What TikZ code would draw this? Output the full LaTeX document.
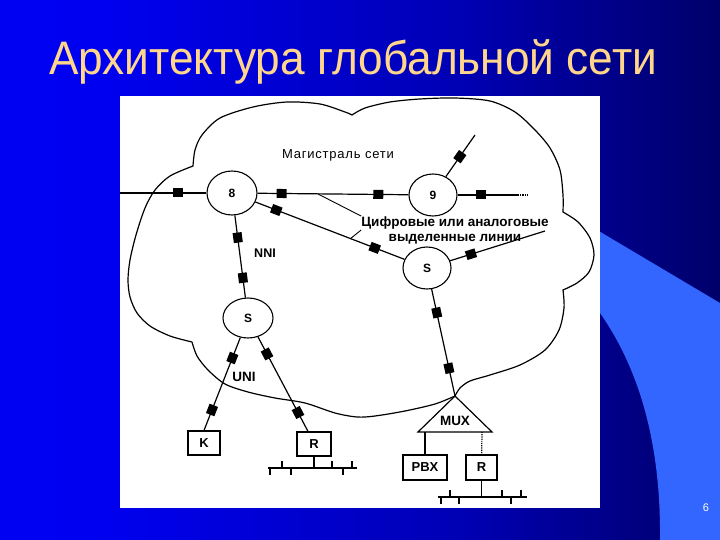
\documentclass[tikz,border=0pt]{standalone}
\usepackage{fontspec}
\setmainfont{Liberation Sans}
\usetikzlibrary{shapes.geometric}
\definecolor{titlec}{RGB}{255,214,140}
\definecolor{swoosh}{RGB}{51,102,255}
\definecolor{bgA}{RGB}{0,0,255}
\definecolor{bgB}{RGB}{0,0,240}
\definecolor{bgC}{RGB}{0,0,180}
\definecolor{bgD}{RGB}{0,0,85}
\definecolor{bgE}{RGB}{0,0,0}
\pgfdeclarehorizontalshading{bgshade}{100bp}{color(0bp)=(bgA); color(32bp)=(bgB); color(57bp)=(bgC); color(80bp)=(bgD); color(100bp)=(bgE)}
\tikzset{
 lnk/.style={line width=1.2pt},
 thinlnk/.style={line width=0.9pt},
 sw/.style={draw, line width=1.1pt, ellipse, inner sep=0pt, font=\bfseries\fontsize{12}{12}\selectfont},
 sq/.style={fill=black, minimum width=10pt, minimum height=9pt, inner sep=0pt, sloped, draw=none},
 term/.style={draw, line width=1.2pt, inner sep=0pt, font=\bfseries\fontsize{13}{13}\selectfont},
 lab/.style={inner sep=0pt, font=\fontsize{13}{14}\selectfont\addfontfeature{LetterSpace=6}},
 blab/.style={inner sep=0pt, font=\bfseries\fontsize{13.5}{15}\selectfont},
}
\begin{document}
\begin{tikzpicture}[x=1pt,y=-1pt]
\useasboundingbox (0,0) rectangle (720,540);
\shade[shading=bgshade] (0,0) rectangle (720,540);
\fill[swoosh] (560,208) -- (720,303) -- (720,540) -- (660,540) .. controls (661,445) and (640,370) .. (600,313) -- (560,262) -- cycle;
\fill[white] (120,96) rectangle (600,508);
% title
\node[font=\fontsize{47}{47}\selectfont, text=titlec, xscale=0.94, anchor=base, inner sep=0pt] (title) at (353,75) {Архитектура глобальной сети};
\node[text=white, font=\fontsize{11}{11}\selectfont, inner sep=0pt] (pg) at (706,508) {6};
% cloud
\draw[line width=1.2pt]
 plot[smooth] coordinates {(192,342) (170,336) (150,326) (137,313) (130,297) (128,280) (130,260) (136,235) (145,208) (155,190) (170,176) (193,166)}
 -- plot[smooth] coordinates {(193,166) (195,150) (202,135) (220,118) (253,107) (287,102) (320,104) (345,112) (352,115)}
 -- plot[smooth] coordinates {(352,115) (365,108) (390,102) (420,99) (455,98) (490,101) (515,112) (535,130) (550,148) (560,170) (563,195) (563,212)}
 -- plot[smooth] coordinates {(563,212) (578,222) (590,238) (594,255) (589,272) (577,283) (563,290)}
 -- plot[smooth] coordinates {(563,290) (564,308) (559,330) (545,350) (520,365) (490,375) (470,381) (460,388) (455,396)}
 -- plot[smooth] coordinates {(455,396) (435,404) (405,411) (375,416) (357,417) (335,413) (305,403) (275,398) (248,392) (225,384) (208,370) (197,356) (192,342)};
% switches
\node[sw, minimum width=50pt, minimum height=44pt] (n8) at (232,193) {8};
\node[sw, minimum width=48pt, minimum height=42pt] (n9) at (433,195) {9};
\node[sw, minimum width=48pt, minimum height=42pt] (s3) at (427,268) {S};
\node[sw, minimum width=50pt, minimum height=40pt] (s4) at (248,318) {S};
% terminals
\node[term, minimum width=32pt, minimum height=24pt] (K) at (204,443) {K};
\node[term, minimum width=34pt, minimum height=24pt] (R1) at (314,444) {R};
\node[term, minimum width=44pt, minimum height=25pt] (PBX) at (425,467.5) {PBX};
\node[term, minimum width=31pt, minimum height=25pt] (R2) at (481.5,467.5) {R};
% MUX
\coordinate (mux) at (455,396);
\coordinate (muxL) at (418,432);
\coordinate (muxR) at (492,432);
\draw[lnk] (mux) -- (muxR) -- (muxL) -- cycle;
\node[blab] (muxt) at (455,421) {MUX};
% free ends
\coordinate (wL) at (120,193);
\coordinate (eE) at (518,195);
\coordinate (eE2) at (528,195);
\coordinate (nE) at (475,135);
\coordinate (rE) at (545,231);
\coordinate (m1) at (425,432);
\coordinate (m2) at (482,432);
% links
\draw[lnk] (wL) -- node[sq,pos=0.667]{} (n8);
\draw[lnk] (n8) -- node[sq,pos=0.16]{} node[sq,pos=0.8]{} (n9);
\draw[lnk] (n9) -- node[sq,pos=0.38]{} (eE);
\draw[lnk, densely dotted] (eE) -- (eE2);
\draw[lnk] (n9) -- node[sq,pos=0.48]{} (nE);
\draw[lnk] (n8) -- node[sq,pos=0.14]{} node[sq,pos=0.8]{} (s3);
\draw[lnk] (s3) -- node[sq,pos=0.22]{} (rE);
\draw[lnk] (n8) -- node[sq,pos=0.27]{} node[sq,pos=0.76]{} (s4);
\draw[lnk] (s4) -- node[sq,pos=0.22]{} node[sq,pos=0.78]{} (K.north);
\draw[lnk] (s4) -- node[sq,pos=0.18]{} node[sq,pos=0.8]{} ([xshift=-6pt]R1.north);
\draw[lnk] (s3) -- node[sq,pos=0.22]{} node[sq,pos=0.74]{} (mux);
\draw[lnk] (m1) -- (PBX);
\draw[lnk, densely dotted] (m2) -- (R2);
% labels
\node[lab] (mag) at (338,155) {Магистраль сети};
\node[blab, align=center] (dig) at (455,230) {Цифровые или аналоговые\\выделенные линии};
\node[blab, font=\bfseries\fontsize{12.5}{13}\selectfont] (nni) at (265,253) {NNI};
\node[blab] (uni) at (244,377) {UNI};
\coordinate (ld1) at (318,194);
\coordinate (ld2) at (350,239);
\draw[thinlnk] (ld1) -- (dig.north west);
\draw[thinlnk] (dig.west) -- (ld2);
% buses
\coordinate (b1L) at (268,468);
\coordinate (b1R) at (357,468);
\draw[lnk] (b1L) -- (b1R);
\draw[lnk] (R1.south) -- (R1.south |- b1L);
\foreach \x in {282,332,352} \draw[lnk] (\x,468) -- (\x,461);
\foreach \x in {270,291,343} \draw[lnk] (\x,468) -- (\x,475);
\coordinate (b2L) at (438,497);
\coordinate (b2R) at (527,497);
\draw[lnk] (b2L) -- (b2R);
\draw[lnk] (R2.south) -- (R2.south |- b2L);
\foreach \x in {450,502,521} \draw[lnk] (\x,497) -- (\x,490);
\foreach \x in {441,459,511} \draw[lnk] (\x,497) -- (\x,504);
\end{tikzpicture}
\end{document}
